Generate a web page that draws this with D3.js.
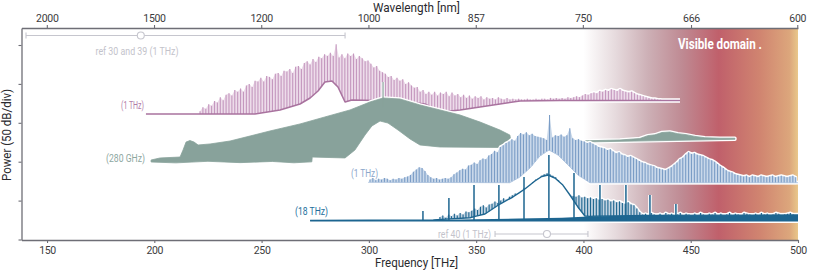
<!DOCTYPE html>
<html>
<head>
<meta charset="utf-8">
<script src="https://cdn.jsdelivr.net/npm/d3@7"></script>
<style>
  body { margin: 0; background: #fff; }
  svg { display: block; }
  text { font-family: Roboto, "Liberation Sans", sans-serif; }
</style>
</head>
<body>
<svg id="chart" width="814" height="273"></svg>
<script>
// speed of light, nm * THz
const C = 299792.458;

const freqTicks = [150, 200, 250, 300, 350, 400, 450, 500];
const wavelengthTicks = [2000, 1500, 1200, 1000, 857, 750, 666, 600];
const powerTicks = [0, 50, 100, 150, 200, 250];

// pink trace, 1 THz comb (THz / dB)
const pinkFloorF = [196.1, 246.9, 258.6, 267.9, 272.6, 276.3, 279.5, 282.8, 285.6, 288.9, 292.1, 314.5, 326.1, 333.1, 342.5, 351.8, 361.1, 370.4, 389, 445];
const pinkFloorDb = [161.3, 161.3, 166.5, 174.2, 181.9, 190.9, 202.4, 203.7, 196, 176.7, 179.3, 178, 174.2, 163.9, 166.5, 170.4, 174.2, 178, 178.7, 178.7];
const pinkTeethStart = 221.3;
const pinkTeethStep = 1.35;
const pinkTeeth = [
  165, 170, 168, 174, 172, 178, 176, 183, 179, 186, 188, 185, 192, 190, 194, 190, 198, 200, 196, 204, 203,
  208, 203, 210, 209, 206, 213, 214, 210, 217, 216, 219, 214, 222, 223, 219, 227, 229, 225, 232, 228, 235,
  233, 238, 236, 240, 236, 251, 234, 238, 233, 239, 236, 239, 232, 236, 233, 229, 230, 226, 221, 223, 217,
  215, 213, 209, 210, 205, 208, 204, 206, 200, 202, 198, 195, 196, 190, 192, 187, 190, 186, 190, 185, 189,
  187, 190, 184, 189, 185, 187, 183, 186, 182, 185, 181, 184, 182, 184, 180, 183, 181, 182, 180, 183, 181,
  180, 182, 180, 181, 180, 181, 180, 180, 181, 180, 180, 181, 180, 181, 181, 180, 182, 181, 182, 181, 182,
  181, 183, 182, 183, 184, 183, 185, 187, 186, 188, 189, 188, 191, 190, 192, 191, 193, 192, 191, 193, 191,
  190, 189, 190, 188, 186, 185, 184, 183, 182, 181, 181, 180, 179.5
];

// green trace, 280 GHz comb
const greenTopF = [198.5, 202.7, 207.3, 212, 213.4, 214.8, 216.6, 218.5, 220.4, 226, 235.3, 244.6, 253.9, 267.9, 279.5, 291.2, 300.5, 306.6, 314.5, 323.8, 333.1, 342.5, 351.8, 361.1, 365.7, 366.7];
const greenTopDb = [102.2, 104.8, 105.4, 106, 115.1, 125.3, 127.2, 125.3, 121.5, 122.8, 126.6, 133, 139.5, 148.5, 157.5, 166.5, 176.7, 181.9, 180.6, 172.9, 166.5, 160, 151, 140.7, 134.3, 118.9];
const greenBottomF = [198.5, 210, 225, 240, 255, 265, 273.4, 273.6, 288.9, 293.5, 298.2, 301.4, 305.2, 308.9, 313.6, 319.2, 323.8, 333.1, 361.1, 366.7];
const greenBottomDb = [99.6, 98.5, 100.5, 98.8, 100.3, 98.6, 99.8, 106, 104.8, 115, 134.3, 145.9, 152.3, 149.7, 140.7, 129.2, 121.5, 118.9, 118.3, 118.9];
const greenSpike = [306.6, 202.4];
const greenBlob = [381.1, 125.3];
const greenTailF = [397, 417, 426.3, 430, 433.3, 436.6, 440.3, 444, 447.8, 452, 456.6, 463.6, 470.6];
const greenTailDb = [126.6, 127.9, 129.8, 133.5, 134.5, 137.5, 138.2, 136, 134.8, 132.5, 130.8, 130.2, 130.2];
const greenTailBaseF = [397, 470.6];
const greenTailBaseDb = [125.2, 128.8];

// light blue trace, 1 THz comb
const blueFloorF = [299.6, 365.7, 370.4, 375.1, 379.7, 383.9, 388.1, 392.8, 397.4, 403, 500];
const blueFloorDb = [73.5, 73, 80.3, 91.9, 107.3, 115, 108.7, 95.8, 83, 73, 73];
const blueTeethStart = 300.5;
const blueTeethStep = 1.35;
const blueTeeth = [
  77, 79, 76, 78, 77, 79, 78, 76, 78, 77, 79, 78, 80, 81, 83, 87, 90, 93, 92, 88, 83, 80, 78, 79, 77,
  78, 79, 78, 80, 84, 86, 89, 91, 90, 95, 96, 99, 97, 102, 104, 103, 108, 110, 114, 112, 119, 121, 124,
  126, 129, 127, 133, 137, 135, 138, 134, 136, 133, 132, 131, 130, 128, 160, 131, 134, 133, 135, 132,
  134, 143, 130, 128, 129, 127, 126, 124, 125, 123, 121, 119, 118, 117, 115, 116, 113, 111, 112, 109,
  108, 106, 107, 105, 103, 101, 99, 98, 96, 95, 94, 92, 91, 90, 89, 91, 93, 96, 99, 103, 105, 109, 112,
  110, 111, 109, 108, 107, 105, 103, 102, 100, 97, 94, 92, 89, 87, 86, 84, 83, 82, 81, 82, 80, 82, 81,
  80, 82, 81, 80, 81, 82, 80, 81, 82, 81, 80, 81, 82, 80
];

// dark blue trace, 18 THz comb
const darkBaseF = [272.6, 300, 330, 350, 370, 390, 405, 430, 500];
const darkBaseDb = [24.6, 24.8, 25.2, 26, 27, 28, 30, 31, 31.5];
const darkBellF = [347.1, 354.1, 361.1, 367.1, 372.7, 377.4, 380.6, 383.5, 386.7, 390.4, 393.7, 397.4, 400.7, 403];
const darkBellDb = [28, 32.8, 45.6, 54.6, 64.9, 75.2, 81, 82.9, 79, 70, 57.2, 41.8, 30.2, 28];
const darkTeethStart = 333.1;
const darkTeethStep = 1.35;
const darkTeeth = [
  29, 31, 28, 32, 30, 33, 31, 34, 32, 36, 35, 37, 40, 38, 42, 44, 41, 45, 46, 49, 47, 50, 53, 51, 55,
  57, 59, 58, 62, 66, 64, 70, 74, 77, 79, 82, 84, 85, 84, 82, 80, 76, 71, 66, 60, 57, 56, 55, 57, 54,
  55, 53, 54, 52, 53, 51, 52, 50, 51, 49, 50, 48, 49, 47, 46, 48, 45, 44, 40, 35,
  32, 33, 31, 34, 32, 30, 33, 31, 34, 32, 33, 31, 32, 34, 31, 33, 32, 30, 33, 31, 34, 32, 31, 33, 32,
  34, 31, 33, 30, 32, 34, 31, 33, 32, 31, 34, 33, 32, 30, 33, 31, 34, 32, 33, 31, 32, 34, 33, 31, 32,
  33, 34, 32, 31
];
const darkSpikeF = [325.2, 337.3, 349, 360.6, 372.3, 383.9, 395.6, 407.7, 419.8, 431, 443.1];
const darkSpikeDb = [36.6, 53.3, 70, 70, 80.3, 108.6, 85.5, 70, 70, 57.2, 45.6];

const traceLabels = ["(1 THz)", "(280 GHz)", "(1 THz)", "(18 THz)"];
const refLabels = ["ref 30 and 39 (1 THz)", "ref 40 (1 THz)"];
const refLo = [140.2, 358.8];
const refHi = [288.9, 402.1];
const refMid = [193.7, 383.0];
const visibleFrom = 400;

const svg = d3.select("#chart");
const plot = { left: 21.5, right: 798, top: 28, bottom: 240 };
const x = d3.scaleLinear([138.1, 500], [plot.left, plot.right]);
const y = d3.scaleLinear([-0.64, 271.85], [plot.bottom, plot.top]);

const zip = (fs, ds) => fs.map((f, i) => [f, ds[i]]);
const line = d3.line().x((d) => x(d[0])).y((d) => y(d[1]));
const band = (top, bottom) => line(top.concat(bottom.slice().reverse())) + "Z";

// Visible domain gradient
const defs = svg.append("defs");
const grad = defs.append("linearGradient").attr("id", "visible").attr("x1", 0).attr("x2", 1).attr("y1", 0).attr("y2", 0);
[
  [0, "#ffffff"], [0.15, "#e6dadd"], [0.3, "#cdb0b6"], [0.46, "#bf8a93"],
  [0.63, "#c0606b"], [0.82, "#d08470"], [0.96, "#dca67c"], [1, "#e9c78a"],
].forEach(([o, c]) => grad.append("stop").attr("offset", o).attr("stop-color", c));

svg.append("rect")
  .attr("x", x(visibleFrom)).attr("y", plot.top)
  .attr("width", x(500) - x(visibleFrom)).attr("height", plot.bottom - plot.top)
  .attr("fill", "url(#visible)");

svg.append("text").attr("x", 678).attr("y", 49)
  .attr("font-size", 14).attr("font-weight", 700).attr("fill", "#fff")
  .attr("textLength", 84).attr("lengthAdjust", "spacingAndGlyphs")
  .text("Visible domain .");

// comb trace: teeth standing on a floor, with a white halo
function combTrace(g, { floor, start, step, teeth, fill, tooth, edge, edgeWidth, halo }) {
  const floorAt = d3.scaleLinear(floor.map((d) => d[0]), floor.map((d) => d[1])).clamp(true);
  const pts = teeth.map((v, i) => {
    const f = start + i * step;
    return { f, top: v, bot: floorAt(f) };
  });
  const top = pts.map((p) => [p.f, Math.max(p.top, p.bot)]);
  const bottom = pts.map((p) => [p.f, p.bot]);

  g.append("path").attr("d", band(top, bottom))
    .attr("fill", "#fff").attr("stroke", "#fff")
    .attr("stroke-width", halo).attr("stroke-linejoin", "round");
  g.append("path").attr("d", line(floor))
    .attr("fill", "none").attr("stroke", "#fff")
    .attr("stroke-width", edgeWidth + halo).attr("stroke-linejoin", "round");

  g.append("path").attr("d", band(top, bottom)).attr("fill", fill);
  g.append("g").selectAll("line")
    .data(pts.filter((p) => p.top > p.bot))
    .join("line")
    .attr("x1", (p) => x(p.f)).attr("x2", (p) => x(p.f))
    .attr("y1", (p) => y(p.bot)).attr("y2", (p) => y(p.top))
    .attr("stroke", tooth).attr("stroke-width", 1.1);
  if (edge) {
    g.append("path").attr("d", line(floor))
      .attr("fill", "none").attr("stroke", edge)
      .attr("stroke-width", edgeWidth).attr("stroke-linejoin", "round");
  }
}

// Pink
combTrace(svg.append("g"), {
  floor: zip(pinkFloorF, pinkFloorDb), start: pinkTeethStart, step: pinkTeethStep, teeth: pinkTeeth,
  fill: "#eddcea", tooth: "#c497be", edge: "#a9739f", edgeWidth: 1.6, halo: 3,
});

// Green
const gGreen = svg.append("g");
const greenBody = band(zip(greenTopF, greenTopDb), zip(greenBottomF, greenBottomDb));
const greenTail = band(zip(greenTailF, greenTailDb), zip(greenTailBaseF, greenTailBaseDb));
[greenBody, greenTail].forEach((d) => {
  gGreen.append("path").attr("d", d).attr("fill", "#fff").attr("stroke", "#fff")
    .attr("stroke-width", 3.5).attr("stroke-linejoin", "round");
});
gGreen.append("line")
  .attr("x1", x(greenSpike[0])).attr("x2", x(greenSpike[0]))
  .attr("y1", y(greenSpike[1])).attr("y2", y(170))
  .attr("stroke", "#fff").attr("stroke-width", 3);
[greenBody, greenTail].forEach((d) => {
  gGreen.append("path").attr("d", d).attr("fill", "#88a29b").attr("stroke", "#88a29b")
    .attr("stroke-width", 0.8).attr("stroke-linejoin", "round");
});
gGreen.append("line")
  .attr("x1", x(greenSpike[0])).attr("x2", x(greenSpike[0]))
  .attr("y1", y(greenSpike[1])).attr("y2", y(170))
  .attr("stroke", "#88a29b").attr("stroke-width", 1.2);
gGreen.append("circle").attr("cx", x(greenBlob[0])).attr("cy", y(greenBlob[1])).attr("r", 2)
  .attr("fill", "#88a29b").attr("stroke", "#fff").attr("stroke-width", 0.8);

// Light blue
combTrace(svg.append("g"), {
  floor: zip(blueFloorF, blueFloorDb), start: blueTeethStart, step: blueTeethStep, teeth: blueTeeth,
  fill: "#c9d8ea", tooth: "#7b9dc6", edge: "#a9c0dc", edgeWidth: 0.8, halo: 3,
});

// Dark blue: the bell only counts inside its own span
const gDark = svg.append("g");
const baseAt = d3.scaleLinear(darkBaseF, darkBaseDb).clamp(true);
const bellAt = d3.scaleLinear(darkBellF, darkBellDb);
const inBell = (f) => f >= darkBellF[0] && f <= darkBellF[darkBellF.length - 1];
const darkFloor = darkBaseF.concat(darkBellF).sort((a, b) => a - b)
  .map((f) => [f, inBell(f) ? Math.max(baseAt(f), bellAt(f)) : baseAt(f)]);
const darkBaseline = [[darkBaseF[0], 23.1], [500, 23.1]];
gDark.append("path").attr("d", band(zip(darkBaseF, darkBaseDb), darkBaseline))
  .attr("fill", "#fff").attr("stroke", "#fff").attr("stroke-width", 3);
darkSpikeF.forEach((f, i) => {
  gDark.append("line").attr("x1", x(f)).attr("x2", x(f))
    .attr("y1", y(darkSpikeDb[i])).attr("y2", y(24))
    .attr("stroke", "#fff").attr("stroke-width", 3.6);
});
combTrace(gDark, {
  floor: darkFloor, start: darkTeethStart, step: darkTeethStep, teeth: darkTeeth,
  fill: "#c3d4e2", tooth: "#1f6690", edge: "#1f6690", edgeWidth: 1.4, halo: 3,
});
gDark.append("path").attr("d", band(zip(darkBaseF, darkBaseDb), darkBaseline))
  .attr("fill", "#1d6590");
darkSpikeF.forEach((f, i) => {
  gDark.append("line").attr("x1", x(f)).attr("x2", x(f))
    .attr("y1", y(darkSpikeDb[i])).attr("y2", y(24))
    .attr("stroke", "#1d6590").attr("stroke-width", 1.5);
});

// trace labels
const labelSpec = [
  { x: 144, y: 108.5, w: 23, color: "#b27ca9" },
  { x: 145, y: 162, w: 39, color: "#8ea79f" },
  { x: 378, y: 177, w: 27, color: "#8ba7cb" },
  { x: 328, y: 215, w: 33, color: "#236e9c" },
];
traceLabels.forEach((t, i) => {
  const s = labelSpec[i];
  svg.append("text").attr("x", s.x).attr("y", s.y).attr("text-anchor", "end")
    .attr("font-size", 11).attr("fill", s.color)
    .attr("textLength", s.w).attr("lengthAdjust", "spacingAndGlyphs").text(t);
});

// reference ranges
const refY = [35.5, 234];
refLabels.forEach((t, i) => {
  const g = svg.append("g").attr("stroke", "#c6c6ce").attr("stroke-width", 1.1);
  g.append("line").attr("x1", x(refLo[i])).attr("x2", x(refHi[i])).attr("y1", refY[i]).attr("y2", refY[i]);
  [refLo[i], refHi[i]].forEach((f) => {
    g.append("line").attr("x1", x(f)).attr("x2", x(f)).attr("y1", refY[i] - 3).attr("y2", refY[i] + 3);
  });
  g.append("circle").attr("cx", x(refMid[i])).attr("cy", refY[i]).attr("r", 3.5).attr("fill", "#fff");
});
svg.append("text").attr("x", 137).attr("y", 54.5).attr("text-anchor", "middle")
  .attr("font-size", 11).attr("fill", "#c3c3cb")
  .attr("textLength", 83).attr("lengthAdjust", "spacingAndGlyphs").text(refLabels[0]);
svg.append("text").attr("x", 491).attr("y", 238).attr("text-anchor", "end")
  .attr("font-size", 11).attr("fill", "#c3c3cb")
  .attr("textLength", 53).attr("lengthAdjust", "spacingAndGlyphs").text(refLabels[1]);

// axes
function styleAxis(g) {
  g.selectAll(".domain").attr("stroke", "#6e6e76").attr("stroke-width", 1.3);
  g.selectAll(".tick line").attr("stroke", "#6e6e76").attr("stroke-width", 1.1);
  g.selectAll(".tick text").attr("fill", "#3c3c40").attr("font-size", 10.5)
    .attr("font-family", "Roboto, sans-serif").attr("letter-spacing", "-0.3px");
}

svg.append("g").attr("transform", `translate(0,${plot.bottom})`)
  .call(d3.axisBottom(x).tickValues(freqTicks).tickSizeInner(3).tickSizeOuter(0).tickPadding(4))
  .call(styleAxis);

svg.append("g").attr("transform", `translate(0,${plot.top})`)
  .call(d3.axisTop(x).tickValues(wavelengthTicks.map((w) => C / w))
    .tickFormat((d, i) => wavelengthTicks[i]).tickSizeInner(3).tickSizeOuter(0).tickPadding(3))
  .call(styleAxis);

svg.append("g").attr("transform", `translate(${plot.left},0)`)
  .call(d3.axisLeft(y).tickValues(powerTicks).tickFormat("").tickSizeInner(3).tickSizeOuter(0))
  .call(styleAxis);

// axis titles
svg.append("text").attr("x", 416.5).attr("y", 12).attr("text-anchor", "middle")
  .attr("font-size", 13).attr("fill", "#2a2a2e")
  .attr("textLength", 87).attr("lengthAdjust", "spacingAndGlyphs").text("Wavelength [nm]");
svg.append("text").attr("x", 416.5).attr("y", 267).attr("text-anchor", "middle")
  .attr("font-size", 13).attr("fill", "#2a2a2e")
  .attr("textLength", 83).attr("lengthAdjust", "spacingAndGlyphs").text("Frequency [THz]");
svg.append("text").attr("transform", "translate(11,135) rotate(-90)").attr("text-anchor", "middle")
  .attr("font-size", 13).attr("fill", "#2a2a2e")
  .attr("textLength", 92).attr("lengthAdjust", "spacingAndGlyphs").text("Power (50 dB/div)");
</script>
</body>
</html>
